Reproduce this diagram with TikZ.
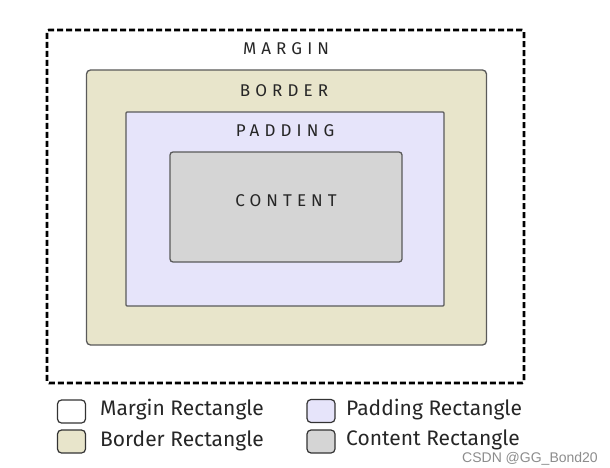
\documentclass[tikz,border=0pt]{standalone}
\usepackage{fontspec}
\setmainfont{Fira Sans}
\newfontfamily\capsfont[LetterSpace=30]{Fira Sans}
\newfontfamily\markfont{Liberation Sans}
\usetikzlibrary{positioning}
\definecolor{BoxEdge}{HTML}{5A5A5A}
\definecolor{BorderFill}{HTML}{E8E5CB}
\definecolor{PaddingFill}{HTML}{E6E4FA}
\definecolor{ContentFill}{HTML}{D5D5D5}
\tikzset{
    % layer rectangles
    layer/.style={
        rectangle,
        draw=BoxEdge,
        line width=1.3pt,
        inner sep=0pt
    },
    marginbox/.style={
        rectangle,
        draw=black,
        line width=2.7pt,
        dash pattern=on 6pt off 3pt,
        rounded corners=2pt,
        inner sep=0pt
    },
    % layer captions
    caption/.style={
        font=\capsfont\fontsize{17}{19}\selectfont,
        text=black!85,
        inner sep=0pt
    },
    % legend swatches and texts
    swatch/.style={
        rectangle,
        draw=black!80,
        line width=1.2pt,
        rounded corners=4pt,
        minimum width=28pt,
        minimum height=23pt,
        inner sep=0pt
    },
    legendtext/.style={
        anchor=west,
        font=\fontsize{21}{23}\selectfont,
        text=black!85,
        inner sep=0pt
    }
}
\begin{document}
\begin{tikzpicture}[x=1pt, y=-1pt]
    \useasboundingbox (0,0) rectangle (610,468);

    % nested layers
    \node[marginbox, minimum width=477pt, minimum height=353pt] (margin) at (285.5,206.5) {};
    \node[layer, fill=BorderFill, rounded corners=4pt, minimum width=400pt, minimum height=275pt] (border) at (286.5,207.5) {};
    \node[layer, fill=PaddingFill, rounded corners=1pt, minimum width=318pt, minimum height=194pt] (padding) at (285,209) {};
    \node[layer, fill=ContentFill, rounded corners=3pt, minimum width=232pt, minimum height=110pt] (content) at (286,207) {};

    \node[caption] (marginlabel) at (286,49) {MARGIN};
    \node[caption] (borderlabel) at (284,91) {BORDER};
    \node[caption] (paddinglabel) at (285,131) {PADDING};
    \node[caption] (contentlabel) at (286,201) {CONTENT};

    % legend
    \node[swatch, fill=white] (swmargin) at (71.5,411.5) {};
    \node[swatch, fill=BorderFill] (swborder) at (71.5,441.5) {};
    \node[swatch, fill=PaddingFill] (swpadding) at (321,411) {};
    \node[swatch, fill=ContentFill] (swcontent) at (321,441.5) {};

    \node[legendtext] (txmargin) at (100,410) {Margin Rectangle};
    \node[legendtext] (txborder) at (100,441) {Border Rectangle};
    \node[legendtext] (txpadding) at (346,410) {Padding Rectangle};
    \node[legendtext] (txcontent) at (346,440) {Content Rectangle};

    \node[anchor=east, inner sep=0pt, font=\markfont\fontsize{14}{16}\selectfont, text=black!45] (mark) at (598,459) {CSDN @GG\_Bond20};
\end{tikzpicture}
\end{document}
